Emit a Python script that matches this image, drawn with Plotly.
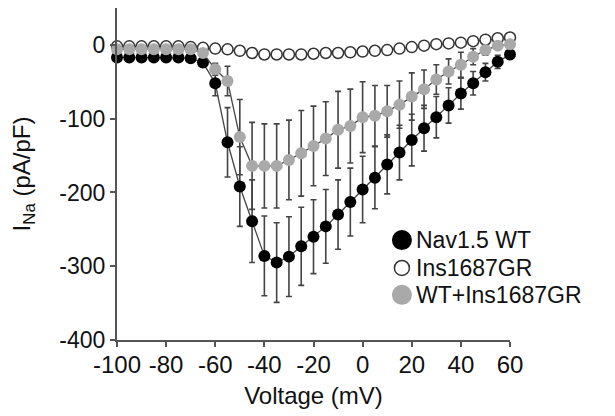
import plotly.graph_objects as go

# Test potentials (mV)
voltage = [-100, -95, -90, -85, -80, -75, -70, -65, -60, -55, -50, -45, -40,
           -35, -30, -25, -20, -15, -10, -5, 0, 5, 10, 15, 20, 25, 30, 35, 40,
           45, 50, 55, 60]

# Peak sodium current density (pA/pF), mean and SEM
wt_mean = [-17, -17, -17, -17, -17, -17, -18, -24, -52, -132, -192, -239, -286,
           -295, -287, -273, -260, -246, -230, -213, -196, -180, -162, -146,
           -129, -113, -98, -82, -66, -52, -37, -23, -13]
wt_sem = [2, 2, 2, 2, 2, 2, 2, 5, 17, 47, 54, 56, 54, 54, 54, 53, 50, 50, 47,
          46, 45, 42, 40, 37, 35, 31, 28, 24, 21, 16, 12, 9, 6]

ins_mean = [-2, -2, -2, -2, -2, -2, -3, -4, -5, -6, -8, -11, -13, -13, -13,
            -13, -12, -11, -11, -10, -9, -8, -7, -5, -3, -1, 1, 2, 3, 5, 7, 9,
            10]
ins_sem = [3, 3, 3, 3, 3, 3, 3, 3, 4, 4, 4, 5, 5, 5, 5, 5, 5, 5, 5, 5, 5, 5,
           5, 5, 4, 4, 4, 4, 4, 4, 4, 4, 4]

mix_mean = [-6, -6, -6, -6, -6, -6, -6, -11, -33, -49, -125, -164, -164, -164,
            -156, -147, -137, -127, -115, -110, -98, -96, -90, -81, -70, -60,
            -47, -36, -27, -16, -7, -1, 1]
mix_sem = [2, 2, 2, 2, 2, 2, 2, 4, 8, 20, 51, 59, 57, 57, 54, 58, 54, 50, 52,
           50, 48, 41, 35, 32, 32, 26, 20, 17, 17, 11, 7, 5, 3]

series_names = ["Nav1.5 WT", "Ins1687GR", "WT+Ins1687GR"]

x_ticks = [-100, -80, -60, -40, -20, 0, 20, 40, 60]
y_ticks = [0, -100, -200, -300, -400]

FONT = "Liberation Sans, Arial, sans-serif"
TEXT = "#111111"
AXIS_GREY = "#555555"
LINE_GREY = "#444444"
MIX_GREY = "#a9a9a9"

fig = go.Figure()


def add_series(y, err, marker):
    fig.add_trace(go.Scatter(
        x=voltage, y=y, mode="lines+markers",
        line=dict(color=LINE_GREY, width=1.3),
        marker=marker,
        error_y=dict(type="data", array=err, visible=True,
                     color=LINE_GREY, thickness=1.6, width=3),
        cliponaxis=False, showlegend=False, hoverinfo="skip",
    ))


open_marker = dict(size=11, color="white", line=dict(color="#333333", width=1.5))
black_marker = dict(size=12, color="black", line=dict(width=0))
grey_marker = dict(size=12, color=MIX_GREY, line=dict(width=0))

add_series(ins_mean, ins_sem, open_marker)
add_series(wt_mean, wt_sem, black_marker)
add_series(mix_mean, mix_sem, grey_marker)

# Key: circle symbols drawn as pixel-sized shapes, labels as annotations
key_styles = [
    dict(d=20, fill="black", line=dict(width=0)),
    dict(d=15, fill="white", line=dict(color="#333333", width=1.5)),
    dict(d=20, fill=MIX_GREY, line=dict(width=0)),
]
key_rows = [0.301, 0.217, 0.136]
key_x = 0.725
shapes = []
annotations = []
for name, st, ky in zip(series_names, key_styles, key_rows):
    r = st["d"] / 2
    shapes.append(dict(
        type="circle", xref="paper", yref="paper",
        xsizemode="pixel", ysizemode="pixel",
        xanchor=key_x, yanchor=ky,
        x0=-r, x1=r, y0=-r, y1=r,
        fillcolor=st["fill"], line=st["line"], layer="above",
    ))
    annotations.append(dict(
        text=name, xref="paper", yref="paper", x=key_x + 0.030, y=ky,
        xanchor="left", yanchor="middle", showarrow=False,
        font=dict(family=FONT, size=23, color=TEXT),
    ))

fig.update_layout(
    width=615, height=416,
    margin=dict(l=117, r=105, t=8, b=76),
    paper_bgcolor="white", plot_bgcolor="white",
    font=dict(family=FONT, size=23, color=TEXT),
    showlegend=False,
    shapes=shapes,
    annotations=annotations,
    xaxis=dict(
        range=[-100, 60], tickvals=x_ticks,
        ticktext=[str(v) for v in x_ticks],
        showgrid=False, zeroline=False,
        showline=True, linecolor=AXIS_GREY, linewidth=2,
        ticks="outside", ticklen=5, tickwidth=1.5, tickcolor=AXIS_GREY,
        ticklabelstandoff=-3,
        tickfont=dict(family=FONT, size=24, color=TEXT),
        title=dict(text="Voltage (mV)", standoff=10,
                   font=dict(family=FONT, size=24, color=TEXT)),
    ),
    yaxis=dict(
        range=[-400, 50], tickvals=y_ticks,
        ticktext=[str(v) for v in y_ticks],
        showgrid=False, zeroline=False,
        showline=True, linecolor=AXIS_GREY, linewidth=2,
        ticks="outside", ticklen=5, tickwidth=1.5, tickcolor=AXIS_GREY,
        tickfont=dict(family=FONT, size=23, color=TEXT),
        title=dict(text="I<sub>Na</sub> (pA/pF)", standoff=22,
                   font=dict(family=FONT, size=24, color=TEXT)),
    ),
)

fig.write_html("out.html")
